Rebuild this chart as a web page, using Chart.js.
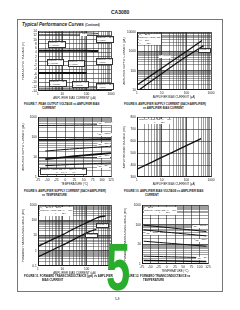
<!DOCTYPE html>
<html>
<head>
<meta charset="utf-8">
<script src="https://cdn.jsdelivr.net/npm/chart.js@4.4.1/dist/chart.umd.min.js"></script>
<style>
  body { margin: 0; background: #fff; }
  #page { position: relative; width: 240px; height: 310px; overflow: hidden;
          font-family: 'Liberation Sans', Arial, sans-serif; color: #1a1a1a; }
  canvas { position: absolute; }
  .t { position: absolute; white-space: nowrap; line-height: 1; }
  .cap { font-size: 2.8px; font-weight: bold; }
  .note { font-size: 2.4px; line-height: 1.1; background: #fff; padding: 0 0.3px; }
  .boxed { border: 0.4px solid #333; }
  #frame { position: absolute; left: 17px; top: 19px; width: 204px; height: 271px; border: 1px solid #777; }
  #five { position: absolute; left: 106px; top: 234px; font-size: 66px; font-weight: bold;
          color: #2aad2c; transform: scaleX(0.66); transform-origin: left top; line-height: 1; }
</style>
</head>
<body>
<div id="page">
  <div class="t" style="left:111px;top:10px;font-size:5px;font-weight:bold;">CA3080</div>
  <div id="frame"></div>
  <div class="t" style="left:22px;top:22.5px;font-size:4.6px;font-weight:bold;font-style:italic;">Typical Performance Curves <span style="font-size:2.6px;font-style:normal;">(Continued)</span></div>

  <canvas id="fig7"></canvas>
  <canvas id="fig8"></canvas>
  <canvas id="fig9"></canvas>
  <canvas id="fig10"></canvas>
  <canvas id="fig11"></canvas>
  <canvas id="fig12"></canvas>

  <div class="t cap" style="left:24px;top:102.5px;">FIGURE 7. PEAK OUTPUT VOLTAGE vs AMPLIFIER BIAS</div>
  <div class="t cap" style="left:42px;top:106.5px;">CURRENT</div>
  <div class="t cap" style="left:124px;top:102.5px;">FIGURE 8. AMPLIFIER SUPPLY CURRENT (EACH AMPLIFIER)</div>
  <div class="t cap" style="left:143px;top:106.5px;">vs AMPLIFIER BIAS CURRENT</div>
  <div class="t cap" style="left:24px;top:189.5px;">FIGURE 9. AMPLIFIER SUPPLY CURRENT (EACH AMPLIFIER)</div>
  <div class="t cap" style="left:42px;top:193.5px;">vs TEMPERATURE</div>
  <div class="t cap" style="left:124px;top:189.5px;">FIGURE 10. AMPLIFIER BIAS VOLTAGE vs AMPLIFIER BIAS</div>
  <div class="t cap" style="left:145px;top:193.5px;">CURRENT</div>
  <div class="t cap" style="left:24px;top:275px;">FIGURE 11. FORWARD TRANSCONDUCTANCE (gm) vs AMPLIFIER</div>
  <div class="t cap" style="left:42px;top:279px;">BIAS CURRENT</div>
  <div class="t cap" style="left:124px;top:275px;">FIGURE 12. FORWARD TRANSCONDUCTANCE vs</div>
  <div class="t cap" style="left:143px;top:279px;">TEMPERATURE</div>

  <div class="t" style="left:115px;top:298px;font-size:3px;">5-9</div>
  <div id="five">5</div>
</div>

<script>
// ---- data ----

// Figure 7: peak output voltage (V) vs bias current (uA)
const fig7Bias = [1, 10, 100, 300];
const fig7VomPos15 = [13.4, 13.3, 13.2, 12.9];
const fig7VcmrPos15 = [12.3, 12.3, 12.2, 12.0];
const fig7VomPos6 = [4.8, 4.8, 4.8, 4.7];
const fig7BiasNeg6 = [1, 10, 100];
const fig7VomNeg6 = [-5.6, -5.6, -5.6];
const fig7VcmrNeg15 = [-12.7, -12.7, -12.6, -12.4];
const fig7VomNeg15 = [-13.5, -13.5, -13.4, -13.2];
const fig7YTicks = [14, 12, 10, 8, 6, 4, 2, 0, -2, -4, -6, -8, -10, -12, -14];

// Figure 8: supply current (uA) vs bias current (uA)
const fig8BiasMax = [1, 10, 100, 430];
const fig8CurrMax = [18, 135, 1000, 3700];
const fig8BiasTyp = [1.2, 10, 100, 500];
const fig8CurrTyp = [10, 70, 540, 2000];
const fig8YLabels = [10, 100, 1000, 10000];

// Figure 9: supply current vs temperature
const fig9TempFull = [-75, 0, 50, 125];
const fig9TempPart = [-55, 0, 50, 125];
const fig9C1 = [380, 390, 400, 420];
const fig9C2 = [72, 73, 75, 78];
const fig9C3 = [20, 24, 28, 35];
const fig9C4 = [7.9, 10, 12, 15.8];
const fig9C5 = [3.7, 4.1, 4.5, 5];
const tempLabels = [-75, -50, -25, 0, 25, 50, 75, 100, 125];
const fig9YLabels = [1, 10, 100, 1000];

// Figure 10: bias voltage (mV) vs bias current (uA)
const fig10Bias = [1, 10, 100, 400];
const fig10Volt = [365, 463, 561, 620];
const fig10YTicks = [300, 400, 500, 600, 700, 800];

// Figure 11: forward transconductance vs bias current
const fig11BiasTyp = [1, 10, 30, 100, 300, 600];
const fig11GmTyp = [2.0, 11, 28, 70, 158, 195];
const fig11BiasMin = [1, 10, 100, 250];
const fig11GmMin = [0.4, 2.3, 15, 26];
const fig11YLabels = [0.1, 1, 10, 100, 1000];

// Figure 12: forward transconductance vs temperature
const fig12Temp = [-70, 25, 120];
const fig12L1 = [95, 66, 45];
const fig12L2 = [55, 38, 27];
const fig12L3 = [14.5, 10.8, 8];
const fig12L4 = [2.5, 2.3, 2.1];
const fig12L5 = [1.5, 1.42, 1.35];
const fig12YLabels = [1, 10, 100, 1000];

const biasLabels = [1, 10, 100, 1000];

// ---- helpers ----
Chart.defaults.font.family = "'Liberation Sans', Arial, sans-serif";
Chart.defaults.font.size = 3.2;
Chart.defaults.color = '#222';

function pts(xs, ys) {
    return xs.map((x, i) => ({ x: x, y: ys[i] }));
}

function line(xs, ys, width) {
    return { data: pts(xs, ys), borderColor: '#111', borderWidth: width || 1.2,
             pointRadius: 0, showLine: true, tension: 0.25, fill: false };
}

// grid lines for log paper: 1..9 in every decade
function logGrid(lo, hi) {
    const v = [];
    for (let d = lo; d < hi * 1.0001; d *= 10) {
        for (let k = 1; k <= 9; k++) {
            const t = +(k * d).toPrecision(3);
            if (t <= hi * 1.0001) v.push(t);
        }
    }
    return v;
}

function isDecade(v) {
    const l = Math.log10(v);
    return Math.abs(l - Math.round(l)) < 1e-6;
}

function logAxis(lo, hi, labels, title) {
    return {
        type: 'logarithmic', min: lo, max: hi,
        afterBuildTicks: s => { s.ticks = logGrid(lo, hi).map(v => ({ value: v })); },
        ticks: { autoSkip: false, maxRotation: 0, padding: 1.2,
                 callback: v => labels.some(l => Math.abs(l - v) < 1e-9) ? String(v) : '' },
        grid: { color: '#2a2a2a', drawTicks: false,
                lineWidth: c => (c.tick && isDecade(c.tick.value)) ? 0.8 : 0.45 },
        border: { display: true, color: '#111', width: 0.9 },
        title: { display: true, text: title, font: { size: 2.8 }, padding: 0 }
    };
}

function linAxis(lo, hi, step, title) {
    return {
        type: 'linear', min: lo, max: hi,
        ticks: { stepSize: step, autoSkip: false, maxRotation: 0, padding: 1.2 },
        grid: { color: '#2a2a2a', drawTicks: false, lineWidth: 0.6 },
        border: { display: true, color: '#111', width: 0.9 },
        title: { display: true, text: title, font: { size: 2.8 }, padding: 0 }
    };
}

function makeChart(id, rect, yw, xScale, yScale, datasets) {
    const cv = document.getElementById(id);
    const PT = 3, PR = 8, XH = 9;
    cv.width = rect.r - rect.l + yw + PR;
    cv.height = rect.b - rect.t + PT + XH;
    cv.style.left = (rect.l - yw) + 'px';
    cv.style.top = (rect.t - PT) + 'px';
    xScale.afterFit = s => { s.height = XH; };
    yScale.afterFit = s => { s.width = yw; };
    return new Chart(cv.getContext('2d'), {
        type: 'scatter',
        data: { datasets: datasets },
        options: {
            responsive: false, animation: false, devicePixelRatio: 1,
            layout: { padding: { top: PT, right: PR, left: 0, bottom: 0 } },
            plugins: { legend: { display: false }, tooltip: { enabled: false } },
            scales: { x: xScale, y: yScale }
        }
    });
}

// ---- the six charts ----
makeChart('fig7', { l: 38, t: 31, r: 111, b: 91 }, 16,
    logAxis(1, 1000, biasLabels, 'AMPLIFIER BIAS CURRENT (\u00b5A)'),
    Object.assign(linAxis(-14, 14, 2, 'PEAK OUTPUT VOLTAGE (V)'),
        { afterBuildTicks: s => { s.ticks = fig7YTicks.map(v => ({ value: v })); } }),
    [line(fig7Bias, fig7VomPos15, 0.8), line(fig7Bias, fig7VcmrPos15, 0.8),
     line(fig7Bias, fig7VomPos6, 2), line(fig7BiasNeg6, fig7VomNeg6, 2),
     line(fig7Bias, fig7VcmrNeg15, 0.8), line(fig7Bias, fig7VomNeg15, 0.8)]);

makeChart('fig8', { l: 137, t: 32, r: 211, b: 90 }, 14,
    logAxis(1, 1000, biasLabels, 'AMPLIFIER BIAS CURRENT (\u00b5A)'),
    logAxis(10, 10000, fig8YLabels, 'AMPLIFIER SUPPLY CURRENT (\u00b5A)'),
    [line(fig8BiasMax, fig8CurrMax, 1.3), line(fig8BiasTyp, fig8CurrTyp, 1.3)]);

makeChart('fig9', { l: 38, t: 117, r: 111, b: 177 }, 16,
    Object.assign(linAxis(-75, 125, 25, 'TEMPERATURE (\u00b0C)'),
        { afterBuildTicks: s => { s.ticks = tempLabels.map(v => ({ value: v })); } }),
    logAxis(1, 1000, fig9YLabels, 'AMPLIFIER SUPPLY CURRENT (\u00b5A)'),
    [line(fig9TempFull, fig9C1, 1), line(fig9TempFull, fig9C2, 1.8),
     line(fig9TempPart, fig9C3, 1), line(fig9TempPart, fig9C4, 1.8),
     line(fig9TempPart, fig9C5, 1)]);

makeChart('fig10', { l: 137, t: 117, r: 211, b: 177 }, 14,
    logAxis(1, 1000, biasLabels, 'AMPLIFIER BIAS CURRENT (\u00b5A)'),
    Object.assign(linAxis(300, 800, 100, 'AMPLIFIER BIAS VOLTAGE (mV)'),
        { afterBuildTicks: s => { s.ticks = fig10YTicks.map(v => ({ value: v })); } }),
    [line(fig10Bias, fig10Volt, 1.4)]);

makeChart('fig11', { l: 38, t: 205, r: 111, b: 266 }, 16,
    logAxis(1, 1000, biasLabels, 'AMPLIFIER BIAS CURRENT (\u00b5A)'),
    logAxis(0.1, 1000, fig11YLabels, 'FORWARD TRANSCONDUCTANCE (mS)'),
    [line(fig11BiasTyp, fig11GmTyp, 1.3), line(fig11BiasMin, fig11GmMin, 1.3)]);

makeChart('fig12', { l: 142, t: 205, r: 208, b: 264 }, 18,
    Object.assign(linAxis(-75, 125, 25, 'TEMPERATURE (\u00b0C)'),
        { afterBuildTicks: s => { s.ticks = tempLabels.map(v => ({ value: v })); } }),
    logAxis(1, 1000, fig12YLabels, 'FORWARD TRANSCONDUCTANCE (mS)'),
    [line(fig12Temp, fig12L1, 1), line(fig12Temp, fig12L2, 1),
     line(fig12Temp, fig12L3, 1), line(fig12Temp, fig12L4, 1),
     line(fig12Temp, fig12L5, 1.6)]);

// ---- in-plot notes ----
const page = document.getElementById('page');
function note(x, y, lines, boxed) {
    const d = document.createElement('div');
    d.className = 't note' + (boxed ? ' boxed' : '');
    d.style.left = x + 'px';
    d.style.top = y + 'px';
    d.innerHTML = lines.join('<br>');
    page.insertBefore(d, document.getElementById('five'));
}

note(48, 41, ['SUPPLY \u00b115V', '(+VCMR)'], true);
note(80, 33, ['+VOM'], false);
note(96, 36, ['SUPPLY \u00b115V', '(+VOM)'], true);
note(47, 59, ['SUPPLY \u00b16V', '(+VCMR)'], true);
note(68, 60, ['SUPPLY \u00b16V', '(+VOM)'], true);
note(96, 58, ['SUPPLY \u00b16V', '(\u2212VOM)'], true);
note(49, 80, ['SUPPLY \u00b115V', '(\u2212VCMR)'], true);
note(72, 81, ['SUPPLY \u00b16V', '(\u2212VCMR)'], true);
note(96, 83, ['SUPPLY \u00b115V', '(\u2212VOM)'], true);

note(139, 34, ['T<sub style="font-size:1.8px">A</sub> = 25\u00b0C', 'SUPPLY VOLTAGE:', 'V+ = 15V', 'V\u2212 = \u221215V'], false);
note(159, 55, ['MAXIMUM'], false);
note(198, 48, ['TYPICAL'], true);

note(97, 122, ['I<sub style="font-size:1.8px">ABC</sub> = 1000\u00b5A'], false);
note(97, 133, ['I<sub style="font-size:1.8px">ABC</sub> = 100\u00b5A'], false);
note(97, 143, ['I<sub style="font-size:1.8px">ABC</sub> = 30\u00b5A'], false);
note(97, 155, ['I<sub style="font-size:1.8px">ABC</sub> = 10\u00b5A'], false);
note(97, 165, ['I<sub style="font-size:1.8px">ABC</sub> = 3\u00b5A'], false);
note(40, 168, ['SUPPLY VOLTAGE: V+ = 15V, V\u2212 = \u221215V', '\u2003\u2003\u2003\u2003\u2003\u2003V+ = 6V, V\u2212 = \u22126V'], true);

note(139, 119, ['SUPPLY VOLTAGE: V+ = 15V', '\u2003\u2003\u2003\u2003\u2003\u2003V\u2212 = \u221215V'], false);

note(40, 207, ['T<sub style="font-size:1.8px">A</sub> = 25\u00b0C, f = 1kHz', 'SUPPLY VOLTAGE:  V+ = 15V', '\u2003\u2003\u2003\u2003\u2003\u2003V\u2212 = \u221215V'], false);
note(96, 223, ['TYPICAL'], true);
note(85, 233, ['MINIMUM'], true);

note(144, 207, ['f = 1kHz', 'SUPPLY VOLTAGE:  V+ = 15V', '\u2003\u2003\u2003\u2003\u2003\u2003V\u2212 = \u221215V'], false);
note(192, 225, ['I<sub style="font-size:1.8px">ABC</sub> = 1000\u00b5A'], false);
note(145, 232, ['I<sub style="font-size:1.8px">ABC</sub> = 100\u00b5A'], false);
note(194, 239, ['I<sub style="font-size:1.8px">ABC</sub> = 10\u00b5A'], false);
note(196, 257, ['I<sub style="font-size:1.8px">ABC</sub> = 1\u00b5A'], false);
</script>
</body>
</html>
